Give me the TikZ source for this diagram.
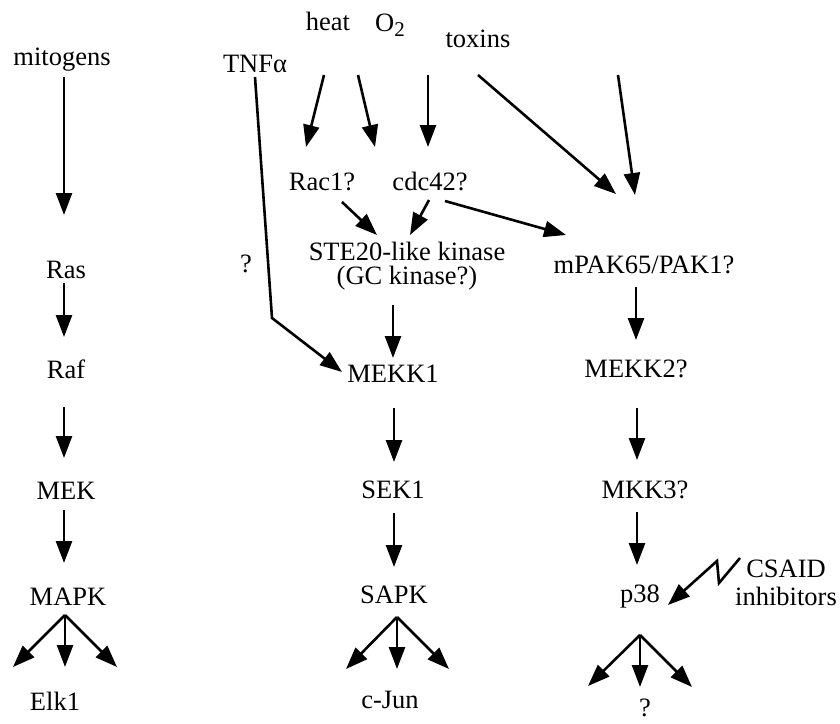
\documentclass[tikz,border=0pt]{standalone}
\usepackage{fontspec}
\setmainfont{Liberation Serif}
\usetikzlibrary{arrows.meta}
\begin{document}
\begin{tikzpicture}[x=1pt,y=-1pt,
  lbl/.style={anchor=base, inner sep=0pt, font=\fontsize{26.5}{30}\selectfont},
  arr/.style={line width=2.6pt, -{Triangle[length=22pt,width=16pt]}},
  ln/.style={line width=2.6pt}]
\useasboundingbox (0,0) rectangle (840,723);

% ---- labels ----
% MAPK cascade
\node[lbl] (mitogens) at (62,65) {mitogens};
\node[lbl] (ras) at (66,278) {Ras};
\node[lbl] (raf) at (66,378) {Raf};
\node[lbl] (mek) at (66,499) {MEK};
\node[lbl] (mapk) at (68,605) {MAPK};
\node[lbl] (elk) at (55,710) {Elk1};
% stress inputs
\node[lbl] (tnf) at (255,72) {TNFα};
\node[lbl] (heat) at (328,30) {heat};
\node[lbl] (o2) at (390,31) {O\raisebox{-5pt}{\fontsize{21}{21}\selectfont 2}};
\node[lbl] (toxins) at (478,47) {toxins};
% SAPK cascade
\node[lbl] (rac) at (322,190) {Rac1?};
\node[lbl] (cdc) at (430,190) {cdc42?};
\node[lbl] (ste) at (407,260) {STE20-like kinase};
\node[lbl] (gc) at (407,284) {(GC kinase?)};
\node[lbl] (q1) at (246,272) {?};
\node[lbl] (mekk1) at (393,382) {MEKK1};
\node[lbl] (sek1) at (393,498) {SEK1};
\node[lbl] (sapk) at (394,603) {SAPK};
\node[lbl] (cjun) at (390,708) {c-Jun};
% p38 cascade
\node[lbl] (mpak) at (644,273) {mPAK65/PAK1?};
\node[lbl] (mekk2) at (636,377) {MEKK2?};
\node[lbl] (mkk3) at (645,498) {MKK3?};
\node[lbl] (p38) at (640,602) {p38};
\node[lbl] (csaid) at (786,577) {CSAID};
\node[lbl] (inh) at (786,605) {inhibitors};
\node[lbl] (q2) at (645,716) {?};

% ---- connector end points ----
\coordinate (mitogens-o) at (64,77);   \coordinate (ras-i) at (64,215);
\coordinate (ras-o) at (64,283);       \coordinate (raf-i) at (64,337);
\coordinate (raf-o) at (64,407);       \coordinate (mek-i) at (64,458);
\coordinate (mek-o) at (64,510);       \coordinate (mapk-i) at (64,563);
\coordinate (mapk-o) at (65,615);
\coordinate (mapk-t1) at (13,667); \coordinate (mapk-t2) at (65,667); \coordinate (mapk-t3) at (117,667);

\coordinate (heat-o1) at (324,75);  \coordinate (heat-t1) at (306,147);
\coordinate (heat-o2) at (358,75);  \coordinate (heat-t2) at (375,147);
\coordinate (o2-o) at (428,75);     \coordinate (o2-t) at (428,147);
\coordinate (toxins-o) at (478,75); \coordinate (mpak-i1) at (616,194);
\coordinate (extra-o) at (618,75);  \coordinate (mpak-i2) at (635,195);
\coordinate (rac-o) at (342,202);   \coordinate (ste-i1) at (377,235);
\coordinate (cdc-o1) at (429,200);  \coordinate (ste-i2) at (410,235);
\coordinate (cdc-o2) at (445,201);  \coordinate (mpak-i3) at (566,235);
\coordinate (gc-o) at (393,305);    \coordinate (mekk1-i) at (393,358);
\coordinate (tnf-o) at (255,77);    \coordinate (tnf-bend) at (272,318);
\coordinate (mekk1-i2) at (342,372);
\coordinate (mekk1-o) at (394,408); \coordinate (sek1-i) at (394,462);
\coordinate (sek1-o) at (394,513);  \coordinate (sapk-i) at (394,567);
\coordinate (sapk-o) at (397,617);
\coordinate (sapk-t1) at (346,669); \coordinate (sapk-t2) at (397,669); \coordinate (sapk-t3) at (449,669);

\coordinate (mpak-o) at (636,287);  \coordinate (mekk2-i) at (636,340);
\coordinate (mekk2-o) at (637,408); \coordinate (mkk3-i) at (637,460);
\coordinate (mkk3-o) at (637,512);  \coordinate (p38-i) at (637,565);
\coordinate (csaid-o) at (740,558); \coordinate (zz1) at (719,583); \coordinate (zz2) at (717,561);
\coordinate (p38-i2) at (668,605);
\coordinate (p38-o) at (640,635);
\coordinate (p38-t1) at (588,686); \coordinate (p38-t2) at (640,687); \coordinate (p38-t3) at (692,687);

% ---- connectors ----
\draw[arr] (mitogens-o) -- (ras-i);
\draw[arr] (ras-o) -- (raf-i);
\draw[arr] (raf-o) -- (mek-i);
\draw[arr] (mek-o) -- (mapk-i);
\foreach \t in {mapk-t1,mapk-t2,mapk-t3} \draw[arr] (mapk-o) -- (\t);

\draw[arr] (heat-o1) -- (heat-t1);
\draw[arr] (heat-o2) -- (heat-t2);
\draw[arr] (o2-o) -- (o2-t);
\draw[arr] (toxins-o) -- (mpak-i1);
\draw[arr] (extra-o) -- (mpak-i2);
\draw[arr] (rac-o) -- (ste-i1);
\draw[arr] (cdc-o1) -- (ste-i2);
\draw[arr] (cdc-o2) -- (mpak-i3);
\draw[arr] (gc-o) -- (mekk1-i);
\draw[arr] (tnf-o) -- (tnf-bend) -- (mekk1-i2);
\draw[arr] (mekk1-o) -- (sek1-i);
\draw[arr] (sek1-o) -- (sapk-i);
\foreach \t in {sapk-t1,sapk-t2,sapk-t3} \draw[arr] (sapk-o) -- (\t);

\draw[arr] (mpak-o) -- (mekk2-i);
\draw[arr] (mekk2-o) -- (mkk3-i);
\draw[arr] (mkk3-o) -- (p38-i);
\draw[arr, line join=miter] (csaid-o) -- (zz1) -- (zz2) -- (p38-i2);
\foreach \t in {p38-t1,p38-t2,p38-t3} \draw[arr] (p38-o) -- (\t);
\end{tikzpicture}
\end{document}
